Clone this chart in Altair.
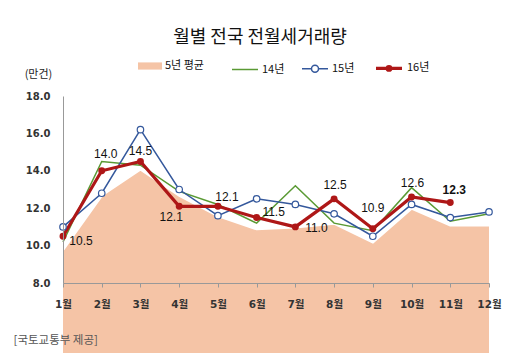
import altair as alt
import pandas as pd

months = list(range(1, 13))
avg5 = [9.8, 12.7, 14.1, 12.7, 11.6, 10.9, 11.0, 11.2, 10.2, 12.0, 11.1, 11.1]
y14 = [10.2, 14.5, 14.3, 12.9, 12.2, 11.2, 13.2, 11.2, 10.8, 13.1, 11.3, 11.7]
y15 = [11.0, 12.8, 16.2, 13.0, 11.6, 12.5, 12.2, 11.7, 10.5, 12.2, 11.5, 11.8]
y16 = [10.5, 14.0, 14.5, 12.1, 12.1, 11.5, 11.0, 12.5, 10.9, 12.6, 12.3]
series = ["14년", "15년", "16년"]
avg_name = "5년 평균"
y_ticks = [8, 10, 12, 14, 16, 18]
# label placement class for each 16년 value label (style only)
label_pos = ["se", "nh", "nl", "sw", "ne", "ene", "e", "n", "nn", "n", "nb"]

PEACH = "#F5C4A6"
GREEN = "#5A9A34"
BLUE = "#34589C"
RED = "#AE1717"
FONT_KR = "Noto Sans CJK KR"

area_df = pd.DataFrame({"m": months, "v": avg5, "s": avg_name})
line_rows = []
for name, vals in zip(series, [y14, y15, y16]):
    for m, v in zip(months, vals):
        line_rows.append({"m": m, "v": v, "s": name})
line_df = pd.DataFrame(line_rows)
lab_df = pd.DataFrame({"m": months[: len(y16)], "v": y16, "pos": label_pos})
lab_df["t"] = lab_df["v"].map(lambda x: f"{x:.1f}")

x_enc = alt.X(
    "m:Q",
    scale=alt.Scale(domain=[1, 12], nice=False, zero=False),
    axis=alt.Axis(
        values=months,
        labelExpr="datum.value + '월'",
        labelFlush=False,
        labelOverlap=False,
        title="[국토교통부 제공]",
        titleX=-50,
        titleY=57,
        titleAlign="left",
        titleBaseline="middle",
        titleFont=FONT_KR,
        titleFontSize=11.5,
        titleFontWeight="normal",
        titleColor="#555555",
        labelFont="DejaVu Sans, Noto Sans CJK KR",
        labelFontSize=10.5,
        labelFontWeight="bold",
        labelColor="#333333",
        labelPadding=12,
        tickSize=4,
        tickColor="#999999",
        domainColor="#999999",
        grid=False,
        zindex=1,
    ),
)
y_enc = alt.Y(
    "v:Q",
    scale=alt.Scale(domain=[8, 18], nice=False, zero=False),
    axis=alt.Axis(
        values=y_ticks,
        format=".1f",
        title="(만건)",
        titleAngle=0,
        titleX=-25,
        titleY=-22,
        titleAlign="center",
        titleBaseline="middle",
        titleFont=FONT_KR,
        titleFontSize=11,
        titleFontWeight="normal",
        titleColor="#222222",
        labelFont="DejaVu Sans",
        labelFontSize=10,
        labelFontWeight="bold",
        labelColor="#333333",
        labelPadding=13,
        tickSize=0,
        domainColor="#999999",
        grid=False,
        zindex=1,
    ),
)

area = alt.Chart(area_df).mark_area(opacity=1).encode(
    x=x_enc,
    y=y_enc,
    color=alt.Color(
        "s:N",
        scale=alt.Scale(domain=[avg_name], range=[PEACH]),
        legend=alt.Legend(
            orient="none",
            legendX=75,
            legendY=-42,
            direction="horizontal",
            title=None,
            symbolType="M-1,-0.3H1V0.3H-1Z",
            symbolSize=576,
            symbolStrokeWidth=0,
            labelFont=FONT_KR,
            labelFontSize=11,
            labelColor="#111111",
            labelOffset=3,
        ),
    ),
)

glow = alt.Chart(area_df).mark_line(color="white", strokeWidth=3).encode(x=x_enc, y=y_enc)

stroke_scale = alt.Scale(domain=series, range=[GREEN, BLUE, RED])
sw_scale = alt.Scale(type="ordinal", domain=series, range=[1.5, 1.5, 3.2])
circ_open = "M-1,0H-0.27M0.27,0H1M0.27,0A0.27,0.27,0,1,1,-0.27,0A0.27,0.27,0,1,1,0.27,0Z"
circ_dot = "M-1,0H-0.14M0.14,0H1M0.14,0A0.14,0.14,0,1,1,-0.14,0A0.14,0.14,0,1,1,0.14,0Z"
shape_scale = alt.Scale(domain=series, range=["M-1,0H1", circ_open, circ_dot])
fill_scale = alt.Scale(domain=series, range=["white", "white", RED])

legend_lines = alt.Legend(
    orient="none",
    legendX=168,
    legendY=-43,
    direction="horizontal",
    title=None,
    symbolSize=676,
    columnPadding=14,
    labelFont=FONT_KR,
    labelFontSize=11,
    labelColor="#111111",
    labelOffset=3,
)

dummy = alt.Chart(line_df).transform_filter("false").mark_point(opacity=1).encode(
    x=x_enc,
    y=y_enc,
    stroke=alt.Stroke("s:N", scale=stroke_scale, legend=legend_lines),
    strokeWidth=alt.StrokeWidth("s:O", scale=sw_scale),
    shape=alt.Shape("s:N", scale=shape_scale),
    fill=alt.Fill("s:N", scale=fill_scale),
)

lines = alt.Chart(line_df).mark_line().encode(
    x=x_enc,
    y=y_enc,
    stroke=alt.Stroke("s:N", scale=stroke_scale, legend=legend_lines),
    strokeWidth=alt.StrokeWidth("s:O", scale=sw_scale),
)

pts15 = (
    alt.Chart(line_df)
    .transform_filter("datum.s == '15년'")
    .mark_point(shape="circle", filled=False, fill="white", stroke=BLUE, strokeWidth=1.2, size=42, opacity=1)
    .encode(x=x_enc, y=y_enc)
)
pts16 = (
    alt.Chart(line_df)
    .transform_filter("datum.s == '16년'")
    .mark_circle(color=RED, size=48, opacity=1)
    .encode(x=x_enc, y=y_enc)
)

offsets = {
    "se": (18, 5),
    "nh": (4, -17),
    "nl": (0, -10),
    "sw": (-8, 11),
    "ne": (9, -9),
    "ene": (17, -6),
    "e": (21, 1),
    "n": (1, -14),
    "nn": (0, -21),
    "nb": (4, -13),
}
labels = []
for key, (dx, dy) in offsets.items():
    labels.append(
        alt.Chart(lab_df)
        .transform_filter(f"datum.pos == '{key}'")
        .mark_text(
            dx=dx,
            dy=dy,
            align="center",
            baseline="middle",
            font="Liberation Sans",
            fontSize=12,
            fontWeight="bold" if key == "nb" else "normal",
            color="#111111",
        )
        .encode(x=x_enc, y=y_enc, text="t:N")
    )

chart = (
    alt.layer(area, glow, dummy, lines, pts15, pts16, *labels)
    .properties(
        width=426,
        height=187,
        padding={"left": 63, "top": 96, "right": 35, "bottom": 70},
        autosize=alt.AutoSizeParams(type="none"),
        background="white",
        title=alt.TitleParams(
            text="월별 전국 전월세거래량",
            font=FONT_KR,
            fontSize=18,
            fontWeight="normal",
            color="#111111",
            anchor="middle",
            dx=-16,
            dy=10,
            offset=16,
        ),
    )
    .configure_view(stroke=None)
)

chart.save("out.html", embed_options={"renderer": "svg", "actions": False})
